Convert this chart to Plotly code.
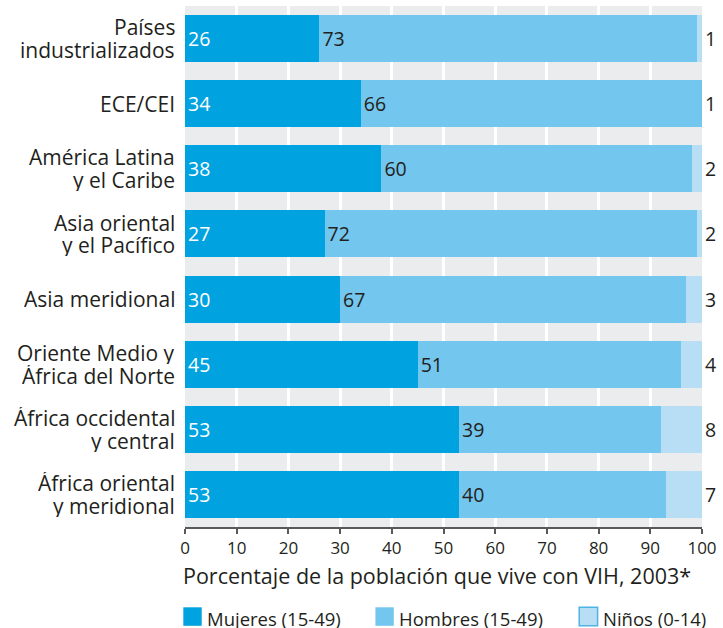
import plotly.graph_objects as go

categories = [
    "Países<br>industrializados",
    "ECE/CEI",
    "América Latina<br>y el Caribe",
    "Asia oriental<br>y el Pacífico",
    "Asia meridional",
    "Oriente Medio y<br>África del Norte",
    "África occidental<br>y central",
    "África oriental<br>y meridional",
]
mujeres = [26, 34, 38, 27, 30, 45, 53, 53]
hombres = [73, 66, 60, 72, 67, 51, 39, 40]
ninos = [1, 1, 2, 2, 3, 4, 8, 7]
series_names = ["Mujeres (15-49)", "Hombres (15-49)", "Niños (0-14)"]
x_ticks = [0, 10, 20, 30, 40, 50, 60, 70, 80, 90, 100]
axis_title = "Porcentaje de la población que vive con VIH, 2003*"

C_M = "#00a3e0"
C_H = "#73c6ee"
C_N = "#b7def5"
C_NB = "#4fb3e6"
TXT = "#231f20"
FONT = "Open Sans"

W, H = 723, 628
L, R, T, B = 185, 705, 6, 527
X_MAX = x_ticks[-1]


def px_x(p):
    return (p - L) / (R - L)


def px_y(p):
    return (B - p) / (B - T)


fig = go.Figure()
fig.add_trace(go.Bar(
    y=categories, x=mujeres, orientation="h", name=series_names[0],
    marker=dict(color=C_M, line=dict(width=0)),
    text=[str(v) for v in mujeres], textposition="inside",
    insidetextanchor="start", textangle=0,
    textfont=dict(family=FONT, size=19.5, color="white"),
    showlegend=False,
))
fig.add_trace(go.Bar(
    y=categories, x=hombres, orientation="h", name=series_names[1],
    marker=dict(color=C_H, line=dict(width=0)),
    text=[str(v) for v in hombres], textposition="inside",
    insidetextanchor="start", textangle=0,
    textfont=dict(family=FONT, size=19.5, color=TXT),
    showlegend=False,
))
fig.add_trace(go.Bar(
    y=categories, x=ninos, orientation="h", name=series_names[2],
    marker=dict(color=C_N, line=dict(width=0)),
    showlegend=False,
))

annotations = []
# Niños values outside the bar end
for i, (m, h, n) in enumerate(zip(mujeres, hombres, ninos)):
    annotations.append(dict(
        x=min(m + h + n, X_MAX), y=i, xref="x", yref="y", text=str(n),
        showarrow=False, xanchor="left", yanchor="middle", xshift=1,
        font=dict(family=FONT, size=19.5, color=TXT),
    ))

# Category labels (one annotation per line for tight line spacing)
for i, cat in enumerate(categories):
    lines = cat.split("<br>")
    n = len(lines)
    for j, line in enumerate(lines):
        shift = (n - 1) / 2 * 22.7 - j * 22.7
        annotations.append(dict(
            x=0, y=i, xref="paper", yref="y", text=line, showarrow=False,
            xanchor="right", yanchor="middle", xshift=-8, yshift=shift,
            height=22, valign="middle",
            font=dict(family=FONT, size=21, color=TXT),
        ))

# Axis title
annotations.append(dict(
    x=px_x(181), y=px_y(575), xref="paper", yref="paper", text=axis_title,
    showarrow=False, xanchor="left", yanchor="middle",
    font=dict(family=FONT, size=21.5, color=TXT),
))

# Custom legend
shapes = []
legend_items = [
    (series_names[0], C_M, C_M, 183.3),
    (series_names[1], C_H, C_H, 376.5),
    (series_names[2], C_N, C_NB, 581.5),
]
for name, fill, border, bx in legend_items:
    shapes.append(dict(
        type="rect", xref="paper", yref="paper",
        x0=px_x(bx), x1=px_x(bx + 18.5), y0=px_y(607.3), y1=px_y(625.8),
        fillcolor=fill, line=dict(color=border, width=1.5 if border != fill else 0),
    ))
    annotations.append(dict(
        x=px_x(bx + 21.5), y=px_y(618.5), xref="paper", yref="paper",
        text=name, showarrow=False, xanchor="left", yanchor="middle",
        font=dict(family=FONT, size=18.5, color=TXT),
    ))

fig.update_layout(
    width=W, height=H,
    margin=dict(l=L, r=W - R, t=T, b=H - B, pad=0),
    barmode="stack", bargap=0.28,
    plot_bgcolor="#ebecee", paper_bgcolor="white",
    font=dict(family=FONT, color=TXT),
    xaxis=dict(
        range=[0, X_MAX], tickvals=x_ticks, ticktext=[str(t) for t in x_ticks],
        showgrid=True, gridcolor="white", gridwidth=2.5, zeroline=False,
        showline=True, linecolor="#58595b", linewidth=2,
        ticks="outside", ticklen=5, tickwidth=1.5, tickcolor="#58595b",
        tickfont=dict(family=FONT, size=17, color=TXT),
        fixedrange=True,
    ),
    yaxis=dict(
        range=[7.5, -0.5], showticklabels=False, showgrid=False,
        zeroline=False, showline=False, ticks="", fixedrange=True,
    ),
    annotations=annotations, shapes=shapes,
    showlegend=False,
)

fig.write_html(
    "out.html",
    config={"displayModeBar": False},
    post_script="document.body.style.margin='0px';",
)
